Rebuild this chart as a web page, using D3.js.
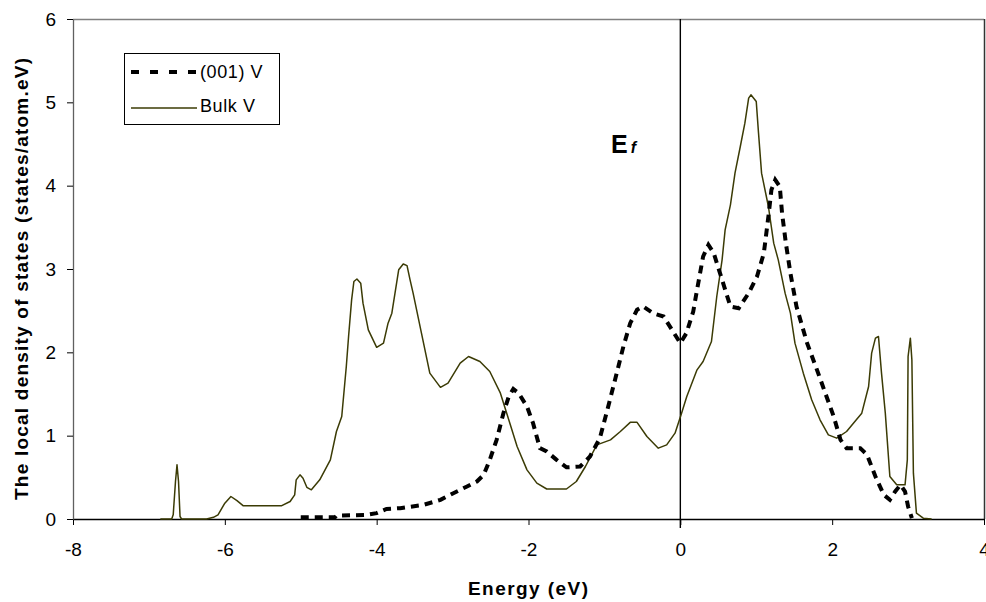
<!DOCTYPE html>
<html>
<head>
<meta charset="utf-8">
<script src="https://cdn.jsdelivr.net/npm/d3@7"></script>
<style>
    html, body { margin: 0; padding: 0; background: #fff; }
    svg { display: block; font-family: "Liberation Sans", Arial, sans-serif; }
</style>
</head>
<body>
<div id="chart"></div>
<script>
// Bulk V local DOS (energy in eV, states/atom.eV)
var bulkE = [-6.85, -6.70, -6.68, -6.65, -6.63, -6.61, -6.59, -6.57, -6.24, -6.15, -6.09, -6.00, -5.92, -5.84, -5.76,
    -5.25, -5.14, -5.08, -5.06, -5.01, -4.97, -4.92, -4.86, -4.75, -4.61, -4.53, -4.46, -4.40, -4.37, -4.33, -4.30,
    -4.26, -4.21, -4.18, -4.11, -4.00, -3.91, -3.85, -3.80, -3.71, -3.65, -3.60, -3.56, -3.52, -3.41, -3.30, -3.16,
    -3.06, -2.90, -2.79, -2.64, -2.51, -2.37, -2.26, -2.15, -2.02, -1.89, -1.76, -1.50, -1.37, -1.25, -1.10, -0.92,
    -0.79, -0.66, -0.57, -0.44, -0.29, -0.18, -0.07, 0.01, 0.085, 0.22, 0.30, 0.41, 0.48, 0.55, 0.59, 0.66, 0.72,
    0.79, 0.85, 0.90, 0.93, 1.00, 1.03, 1.07, 1.16, 1.23, 1.29, 1.38, 1.45, 1.51, 1.62, 1.73, 1.84, 1.95, 2.06, 2.19,
    2.28, 2.39, 2.48, 2.52, 2.57, 2.61, 2.65, 2.70, 2.76, 2.85, 2.96, 2.99, 3.00, 3.03, 3.05, 3.07, 3.11, 3.20, 3.31];
var bulkDOS = [0, 0, 0.05, 0.45, 0.65, 0.45, 0.03, 0, 0, 0.02, 0.05, 0.19, 0.27, 0.22, 0.16,
    0.16, 0.21, 0.29, 0.47, 0.53, 0.49, 0.38, 0.35, 0.47, 0.71, 1.05, 1.23, 1.83, 2.19, 2.63, 2.85,
    2.88, 2.83, 2.59, 2.27, 2.06, 2.11, 2.35, 2.47, 2.99, 3.06, 3.04, 2.87, 2.71, 2.23, 1.75, 1.58,
    1.63, 1.87, 1.95, 1.89, 1.77, 1.51, 1.19, 0.87, 0.59, 0.43, 0.36, 0.36, 0.45, 0.63, 0.89, 0.95,
    1.05, 1.16, 1.16, 0.99, 0.85, 0.89, 1.03, 1.25, 1.47, 1.79, 1.89, 2.13, 2.67, 3.11, 3.47, 3.77, 4.15,
    4.47, 4.75, 5.05, 5.09, 5.01, 4.63, 4.15, 3.75, 3.31, 3.11, 2.71, 2.47, 2.11, 1.75, 1.43, 1.19, 1.01, 0.97, 1.05,
    1.15, 1.27, 1.59, 1.99, 2.17, 2.19, 1.75, 1.27, 0.51, 0.41, 0.41, 0.71, 1.95, 2.17, 1.91, 0.55, 0.07, 0.01, 0];

// (001) surface V local DOS
var surfE = [-5.00, -4.55, -4.53, -4.13, -4.00, -3.87, -3.69, -3.38, -3.16, -2.99, -2.81, -2.68, -2.59, -2.51, -2.42,
    -2.33, -2.26, -2.20, -2.13, -2.02, -1.94, -1.85, -1.76, -1.63, -1.50, -1.32, -1.19, -1.06, -0.95, -0.86, -0.75,
    -0.66, -0.57, -0.49, -0.36, -0.22, -0.11, 0.00, 0.08, 0.17, 0.22, 0.30, 0.37, 0.44, 0.55, 0.66, 0.77, 0.90, 1.01,
    1.10, 1.16, 1.20, 1.25, 1.31, 1.34, 1.39, 1.45, 1.53, 1.67, 1.80, 1.91, 2.02, 2.11, 2.19, 2.37, 2.46, 2.57, 2.68,
    2.76, 2.83, 2.90, 2.96, 3.00, 3.05];
var surfDOS = [0.02, 0.02, 0.04, 0.05, 0.07, 0.12, 0.13, 0.17, 0.23, 0.31, 0.39, 0.45, 0.53, 0.71, 0.95,
    1.27, 1.47, 1.56, 1.51, 1.35, 1.15, 0.85, 0.81, 0.71, 0.62, 0.63, 0.75, 0.97, 1.35, 1.67, 2.07,
    2.35, 2.51, 2.55, 2.47, 2.43, 2.27, 2.11, 2.23, 2.49, 2.75, 3.15, 3.29, 3.19, 2.87, 2.55, 2.53, 2.71, 2.91,
    3.19, 3.63, 3.95, 4.07, 3.99, 3.67, 3.31, 2.95, 2.55, 2.11, 1.79, 1.51, 1.23, 0.95, 0.85, 0.85, 0.77, 0.51, 0.29,
    0.23, 0.33, 0.41, 0.33, 0.15, 0.01];

// Axis ticks
var xTicks = [-8, -6, -4, -2, 0, 2, 4];
var yTicks = [0, 1, 2, 3, 4, 5, 6];

var seriesNames = ["(001) V", "Bulk V"];

// Dimensions
var width = 986,
    height = 602;
var plot = { left: 73, right: 984, top: 19, bottom: 519 };
var olive = "#3b3b05";

var svg = d3.select("#chart")
    .append("svg")
    .attr("width", width)
    .attr("height", height);

// Scales
var x = d3.scaleLinear().domain([-8, 4]).range([plot.left, plot.right]);
var y = d3.scaleLinear().domain([0, 6]).range([plot.bottom, plot.top]);

// plain hyphen minus like the original
var fmt = function (d) { return String(d); };

// Plot frame (top and right)
svg.append("line")
    .attr("x1", plot.left).attr("x2", plot.right)
    .attr("y1", plot.top + 0.5).attr("y2", plot.top + 0.5)
    .attr("stroke", "#808080").attr("stroke-width", 1.5);
svg.append("line")
    .attr("x1", plot.right + 0.5).attr("x2", plot.right + 0.5)
    .attr("y1", plot.top).attr("y2", plot.bottom)
    .attr("stroke", "#333").attr("stroke-width", 1.5);

// Axes
var xAxis = svg.append("g")
    .attr("transform", "translate(0," + plot.bottom + ")")
    .call(d3.axisBottom(x).tickValues(xTicks).tickFormat(fmt).tickSize(6).tickSizeOuter(0).tickPadding(18));
var yAxis = svg.append("g")
    .attr("transform", "translate(" + plot.left + ",0)")
    .call(d3.axisLeft(y).tickValues(yTicks).tickFormat(fmt).tickSize(6).tickSizeOuter(0).tickPadding(11));

[xAxis, yAxis].forEach(function (g) {
    g.select(".domain").attr("stroke", "#000").attr("stroke-width", 1.3);
    g.selectAll(".tick line").attr("stroke", "#000");
    g.selectAll(".tick text")
        .attr("fill", "#000")
        .style("font-size", "19px")
        .style("font-family", "Liberation Sans, Arial, sans-serif");
});
yAxis.select(".domain").attr("stroke", "#606060");
xAxis.selectAll(".tick text").attr("dy", "0.71em");

// Fermi level line
svg.append("line")
    .attr("x1", x(0)).attr("x2", x(0))
    .attr("y1", plot.top).attr("y2", plot.bottom + 9)
    .attr("stroke", "#000").attr("stroke-width", 1.4);

var ef = svg.append("text")
    .attr("x", 611).attr("y", 153)
    .style("font-weight", "bold")
    .style("font-size", "25px");
ef.append("tspan").text("E");
ef.append("tspan").attr("dx", 3).style("font-size", "16px").style("font-style", "italic").text("f");

// Curves
var line = d3.line()
    .x(function (d) { return x(d[0]); })
    .y(function (d) { return y(d[1]); });

var bulkData = bulkE.map(function (e, i) { return [e, bulkDOS[i]]; });
var surfData = surfE.map(function (e, i) { return [e, surfDOS[i]]; });

svg.append("path")
    .datum(bulkData)
    .attr("d", line)
    .attr("fill", "none")
    .attr("stroke", olive)
    .attr("stroke-width", 1.5)
    .attr("stroke-linejoin", "round");

svg.append("path")
    .datum(surfData)
    .attr("d", line)
    .attr("fill", "none")
    .attr("stroke", "#000")
    .attr("stroke-width", 4)
    .attr("stroke-dasharray", "8,6");

// Legend
var legend = svg.append("g");
legend.append("rect")
    .attr("x", 124.5).attr("y", 53.5)
    .attr("width", 155).attr("height", 71)
    .attr("fill", "#fff").attr("stroke", "#000");
legend.append("line")
    .attr("x1", 131).attr("x2", 197).attr("y1", 72).attr("y2", 72)
    .attr("stroke", "#000").attr("stroke-width", 4).attr("stroke-dasharray", "8,11");
legend.append("line")
    .attr("x1", 131).attr("x2", 197).attr("y1", 108).attr("y2", 108)
    .attr("stroke", olive).attr("stroke-width", 1.5);
legend.selectAll("text.lbl")
    .data(seriesNames)
    .enter()
    .append("text")
    .attr("class", "lbl")
    .attr("x", 200)
    .attr("y", function (d, i) { return 78 + i * 34; })
    .style("font-size", "18px")
    .style("letter-spacing", "0.6px")
    .text(function (d) { return d; });

// Axis titles
svg.append("text")
    .attr("x", 528).attr("y", 595)
    .attr("text-anchor", "middle")
    .attr("textLength", 120)
    .style("font-weight", "bold")
    .style("font-size", "19px")
    .text("Energy (eV)");

svg.append("text")
    .attr("transform", "translate(28,279) rotate(-90)")
    .attr("text-anchor", "middle")
    .attr("textLength", 442)
    .style("font-weight", "bold")
    .style("font-size", "19px")
    .text("The local density of states (states/atom.eV)");
</script>
</body>
</html>
